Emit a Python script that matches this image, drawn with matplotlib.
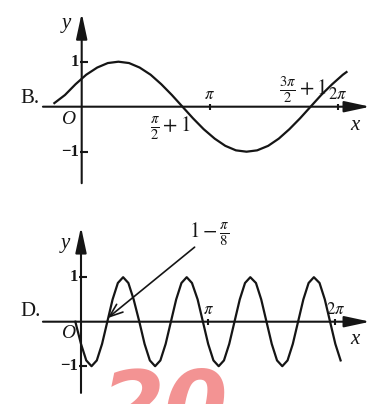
import numpy as np
import matplotlib
matplotlib.use('Agg')
import matplotlib.pyplot as plt

plt.rcParams['font.family'] = ['Liberation Serif', 'DejaVu Serif']
plt.rcParams['mathtext.fontset'] = 'stix'

# ===== данные (x в радианах) =====
# график B
b_x = [-0.67, -0.41, -0.15, 0.11, 0.38, 0.64, 0.90, 1.16, 1.42, 1.69,
       1.95, 2.21, 2.47, 2.73, 2.99, 3.26, 3.52, 3.78, 4.04, 4.30,
       4.57, 4.83, 5.09, 5.35, 5.61, 5.87, 6.14, 6.40, 6.49]
b_y = [0.08, 0.26, 0.50, 0.71, 0.87, 0.97, 1.00, 0.97, 0.87, 0.71,
       0.50, 0.26, 0.00, -0.26, -0.50, -0.71, -0.87, -0.97, -1.00, -0.97,
       -0.87, -0.71, -0.50, -0.26, 0.00, 0.26, 0.50, 0.71, 0.77]

# график D
d_x = [-0.14, 0.00, 0.13, 0.26, 0.39, 0.52, 0.65, 0.78, 0.91, 1.04,
       1.17, 1.30, 1.44, 1.57, 1.70, 1.83, 1.96, 2.09, 2.22, 2.35,
       2.48, 2.61, 2.74, 2.88, 3.01, 3.14, 3.27, 3.40, 3.53, 3.66,
       3.79, 3.92, 4.05, 4.18, 4.32, 4.45, 4.58, 4.71, 4.84, 4.97,
       5.10, 5.23, 5.36, 5.49, 5.62, 5.75, 5.89, 6.02, 6.15, 6.28, 6.41]
d_y = [0.00, -0.50, -0.87, -1.00, -0.87, -0.50, 0.00, 0.50, 0.87, 1.00,
       0.87, 0.50, 0.00, -0.50, -0.87, -1.00, -0.87, -0.50, 0.00, 0.50,
       0.87, 1.00, 0.87, 0.50, 0.00, -0.50, -0.87, -1.00, -0.87, -0.50,
       0.00, 0.50, 0.87, 1.00, 0.87, 0.50, 0.00, -0.50, -0.87, -1.00,
       -0.87, -0.50, 0.00, 0.50, 0.87, 1.00, 0.87, 0.50, 0.00, -0.50, -0.87]

tick_x = [np.pi, 2 * np.pi]
tick_x_labels = [r'$\pi$', r'$2\pi$']
tick_y = [1, -1]
tick_y_labels = ['1', '\u22121']

b_marks = [np.pi / 2 + 1, 3 * np.pi / 2 + 1]
b_mark_labels = [r'$\frac{\pi}{2}+1$', r'$\frac{3\pi}{2}+1$']
d_mark = 1 - np.pi / 8
d_mark_label = r'$1-\frac{\pi}{8}$'

W, H = 371, 404
INK = '#151515'

fig = plt.figure(figsize=(W / 100, H / 100), dpi=100)
fig.patch.set_facecolor('white')


def panel(top, bottom, ox, oy, ppr, ppu):
    # ox, oy - положение начала координат в пикселях картинки
    ax = fig.add_axes([0, 1 - bottom / H, 1, (bottom - top) / H])
    ax.set_xlim(-ox / ppr, (W - ox) / ppr)
    ax.set_ylim((oy - bottom) / ppu, (oy - top) / ppu)
    ax.axis('off')
    return ax


def label(ax, s, xy, dx, dy, **kw):
    kw.setdefault('ha', 'center')
    kw.setdefault('va', 'center')
    ax.annotate(s, xy, xytext=(dx, dy), textcoords='offset pixels',
                color=INK, annotation_clip=False, **kw)


def axes_arrows(ax, x0, x1, y0, y1):
    st = dict(arrowstyle='-|>,head_length=1.3,head_width=0.28',
              mutation_scale=12, lw=1.5, color=INK, shrinkA=0, shrinkB=0)
    ax.annotate('', xy=(x1, 0), xytext=(x0, 0), arrowprops=st)
    ax.annotate('', xy=(0, y1), xytext=(0, y0), arrowprops=st)


def ticks(ax):
    ax.plot(tick_x, [0, 0], ls='none', marker='|', ms=5, mew=1.5, color=INK)
    ax.plot([0.06, 0.06], tick_y, ls='none', marker='_', ms=6, mew=1.5, color=INK)


# ---------- B ----------
axb = panel(0, 200, 81.7, 106.7, 40.8, 45.0)
axes_arrows(axb, -0.95, 7.07, -1.70, 2.08)
ticks(axb)
axb.plot(b_x, b_y, color=INK, lw=1.6, solid_joinstyle='round')

label(axb, 'B.', (0, 0), -61, 8, fontsize=15, ha='left')
label(axb, 'y', (0, 0), -15, 83, fontsize=15, style='italic')
label(axb, 'x', (0, 0), 273, -19, fontsize=15, style='italic')
label(axb, 'O', (0, 0), -14, -13, fontsize=14, style='italic')
for v, s in zip(tick_y, tick_y_labels):
    label(axb, s, (0, v), -3, 0, fontsize=12, ha='right', weight='bold')
for v, s in zip(tick_x, tick_x_labels):
    label(axb, s, (v, 0), 0, 12, fontsize=12)
label(axb, b_mark_labels[0], (b_marks[0], 0), -16, -22, fontsize=15)
label(axb, b_mark_labels[1], (b_marks[1], 0), -12, 17, fontsize=15)

# ---------- D ----------
axd = panel(200, 404, 81.0, 321.7, 40.5, 44.5)
axes_arrows(axd, -0.94, 7.14, -1.60, 2.13)
ticks(axd)
axd.plot(d_x, d_y, color=INK, lw=1.6, solid_joinstyle='round')

label(axd, 'D.', (0, 0), -61, 10, fontsize=15, ha='left')
label(axd, 'y', (0, 0), -16, 78, fontsize=15, style='italic')
label(axd, 'x', (0, 0), 274, -18, fontsize=15, style='italic')
label(axd, 'O', (0, 0), -13, -12, fontsize=14, style='italic')
for v, s in zip(tick_y, tick_y_labels):
    label(axd, s, (0, v), -3, 0, fontsize=12, ha='right', weight='bold')
for v, s in zip(tick_x, tick_x_labels):
    label(axd, s, (v, 0), 0, 12, fontsize=12)
label(axd, d_mark_label, (d_mark, 0), 104, 87, fontsize=15)
axd.annotate('', xy=(d_mark + 0.05, 0.08), xytext=(87, 71),
             textcoords='offset pixels',
             arrowprops=dict(arrowstyle='->,head_length=0.8,head_width=0.3',
                             mutation_scale=12, lw=1.2, color=INK,
                             shrinkA=0, shrinkB=0))

# водяной знак внизу
fig.text(100 / W, 1 - 366 / H, '20', fontsize=66, weight='bold', style='italic',
         family='DejaVu Sans', color='#f07878', alpha=0.8, ha='left', va='top')

fig.savefig('out.png', dpi=100, facecolor='white')
